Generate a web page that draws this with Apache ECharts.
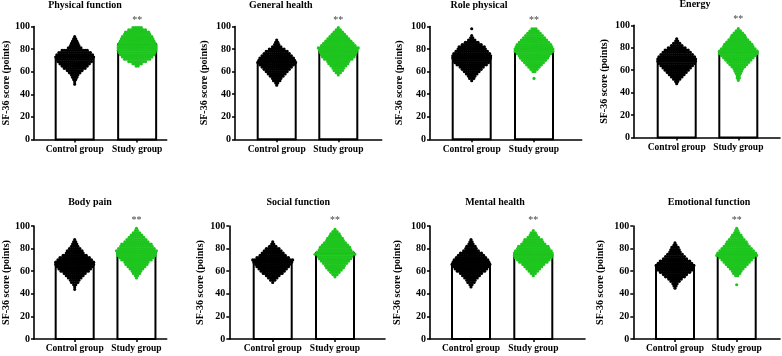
<!DOCTYPE html>
<html>
<head>
<meta charset="utf-8">
<script src="https://cdn.jsdelivr.net/npm/echarts@6/dist/echarts.min.js"></script>
<style>html,body{margin:0;padding:0;background:#fff}#c{width:782px;height:356px}</style>
</head>
<body>
<div id="c"></div>
<script>
// ---------- data ----------
const titles = ['Physical function','General health','Role physical','Energy','Body pain','Social function','Mental health','Emotional function'];
const categories = ['Control group','Study group'];
const yAxisName = 'SF-36 score (points)';
const controlMeans = [72.9, 68.2, 72.8, 68.2, 67.5, 68.5, 66.1, 65.5];
const studyMeans   = [84.4, 77.7, 79.9, 76.3, 76.3, 75.8, 74.3, 75.2];
const sigMarks = ['**','**','**','**','**','**','**','**'];
const binSize = 2; // score points per swarm row
// first row (score) of each swarm and number of dots per row
const controlSwarmStart = [49, 48, 52, 48, 44, 50, 46, 45];
const controlSwarmCounts = [
  [1,1,2,3,4,6,8,11,13,15,17,18,19,18,16,13,7,5,4,3,2,1],
  [1,2,4,5,7,9,11,13,15,17,19,18,17,15,13,11,8,5,3,2,1],
  [1,3,4,6,8,10,12,15,17,18,19,19,18,16,14,13,10,7,4,2,1,0,0,1],
  [1,2,4,6,8,10,12,14,16,18,19,19,18,16,14,12,9,6,4,2,1],
  [1,1,2,4,5,7,9,11,14,16,18,19,19,17,15,12,9,8,6,4,3,2,1],
  [1,3,5,7,10,12,14,16,17,19,20,16,13,11,9,7,4,2,1],
  [1,2,4,5,7,9,11,14,16,18,19,18,17,15,13,11,8,6,5,3,2,1],
  [1,2,3,5,7,10,12,15,17,18,19,17,15,12,10,8,6,5,4,2,1]
];
const studySwarmStart = [65, 57, 54, 51, 54, 55, 56, 48];
const studySwarmCounts = [
  [2,5,9,13,15,17,18,19,19,19,18,17,16,15,13,12,9,5],
  [1,3,5,6,8,10,11,14,16,17,18,19,20,17,15,13,11,9,7,5,3,1],
  [1,0,0,2,4,6,8,10,12,14,15,17,19,19,18,17,15,13,11,9,7,5,3],
  [1,2,2,3,4,5,7,9,11,13,15,17,19,19,17,15,14,12,10,8,7,5,3,1],
  [1,2,4,5,7,9,11,12,15,17,19,19,20,18,16,15,12,10,8,6,4,2,1],
  [1,3,5,7,9,10,12,14,16,17,20,18,16,15,13,11,9,8,6,5,3,1],
  [1,3,5,7,9,11,14,16,18,19,19,18,16,15,12,10,9,6,4,3,1],
  [1,0,0,0,2,4,5,7,9,11,13,15,17,20,19,17,15,13,11,10,8,6,5,3,2,1]
];

// ---------- layout (pixels) ----------
const layout = [
  {left:32,    right:166.7, c0:73.3,  c1:136.7, top:26.5, bottom:139.5, tx:85,    ty:6,     gap:17},
  {left:235,   right:381.7, c0:276.7, c1:338.3, top:26.5, bottom:139.3, tx:280.8, ty:6,     gap:20},
  {left:430,   right:581.7, c0:471.7, c1:534,   top:26.5, bottom:139.3, tx:479,   ty:6,     gap:20},
  {left:634,   right:780,   c0:676.7, c1:738.3, top:25.3, bottom:137.6, tx:695,   ty:5.5,   gap:19},
  {left:32,    right:166.7, c0:73.3,  c1:136,   top:226,  bottom:339,   tx:90,    ty:203.5, gap:17},
  {left:229.3, right:385,   c0:272.7, c1:335,   top:226,  bottom:339,   tx:298.3, ty:203.5, gap:17.5},
  {left:430,   right:585,   c0:471,   c1:533.3, top:226,  bottom:339,   tx:495,   ty:203.5, gap:22},
  {left:633.3, right:780,   c0:675,   c1:736.7, top:226,  bottom:339,   tx:709,   ty:203.5, gap:21.5}
];
const FONT = "'Liberation Serif','Times New Roman',serif";
const GREEN = '#1ec51e';
const sigY = 105;
const dotR = 1.6, dotStep = 2.1;

const option = {animation:false, backgroundColor:'#fff', title:[], grid:[], xAxis:[], yAxis:[], series:[]};

titles.forEach((t, i) => {
  const L = layout[i];
  const sp = L.c1 - L.c0;
  option.title.push({
    text: t, left: L.tx, top: L.ty - 6, textAlign: 'center', padding: 0,
    textStyle: {fontFamily: FONT, fontWeight: 'bold', fontSize: 10, color: '#000'}
  });
  option.grid.push({left: L.left, top: L.top, width: L.right - L.left, height: L.bottom - L.top});
  option.xAxis.push({
    type: 'value', gridIndex: i,
    min: (L.left - L.c0) / sp, max: (L.right - L.c0) / sp,
    splitLine: {show: false},
    axisLine: {show: true, onZero: false, lineStyle: {color: '#000', width: 1.6}},
    axisTick: {show: true, customValues: [0, 1], length: 3, lineStyle: {color: '#000', width: 1.5}},
    axisLabel: {customValues: [0, 1], formatter: v => categories[Math.round(v)] || '',
      fontFamily: FONT, fontWeight: 'bold', fontSize: 9.5, color: '#000', margin: 5}
  });
  option.yAxis.push({
    type: 'value', gridIndex: i, min: 0, max: 100, interval: 20,
    name: yAxisName, nameLocation: 'middle', nameGap: L.gap + 6,
    nameTextStyle: {fontFamily: FONT, fontWeight: 'bold', fontSize: 10, color: '#000'},
    splitLine: {show: false},
    axisLine: {show: true, onZero: false, lineStyle: {color: '#000', width: 1.6}},
    axisTick: {show: true, length: 3, lineStyle: {color: '#000', width: 1.5}},
    axisLabel: {fontFamily: FONT, fontWeight: 'bold', fontSize: 10, color: '#000', margin: 4}
  });
  // bars
  option.series.push({
    type: 'custom', xAxisIndex: i, yAxisIndex: i,
    data: [[0, controlMeans[i]], [1, studyMeans[i]]],
    renderItem: (params, api) => {
      const p0 = api.coord([api.value(0), 0]);
      const p1 = api.coord([api.value(0), api.value(1)]);
      return {type: 'rect', shape: {x: p0[0] - 19, y: p1[1], width: 38, height: p0[1] - p1[1]},
        style: {fill: '#fff', stroke: '#000', lineWidth: 2}};
    }
  });
  // swarms
  [[controlSwarmStart, controlSwarmCounts, 0, '#000'], [studySwarmStart, studySwarmCounts, 1, GREEN]].forEach(([starts, counts, xi, col]) => {
    const rows = counts[i].map((n, k) => [xi, starts[i] + k * binSize, n]).filter(r => r[2] > 0);
    option.series.push({
      type: 'custom', xAxisIndex: i, yAxisIndex: i, data: rows,
      renderItem: (params, api) => {
        const c = api.coord([api.value(0), api.value(1)]);
        const n = api.value(2);
        const children = [];
        for (let k = 0; k < n; k++) {
          children.push({type: 'circle', shape: {cx: c[0] + (k - (n - 1) / 2) * dotStep, cy: c[1], r: dotR},
            style: {fill: col}});
        }
        return {type: 'group', children};
      }
    });
  });
  // significance
  option.series.push({
    type: 'custom', xAxisIndex: i, yAxisIndex: i, data: [[1, sigY]],
    renderItem: (params, api) => {
      const c = api.coord([api.value(0), api.value(1)]);
      return {type: 'text', x: c[0], y: c[1],
        style: {text: sigMarks[i], textAlign: 'center', textVerticalAlign: 'middle',
          fontFamily: FONT, fontSize: 10, fill: '#444'}};
    }
  });
});

const chart = echarts.init(document.getElementById('c'), null, {renderer: 'canvas'});
chart.setOption(option);
</script>
</body>
</html>
